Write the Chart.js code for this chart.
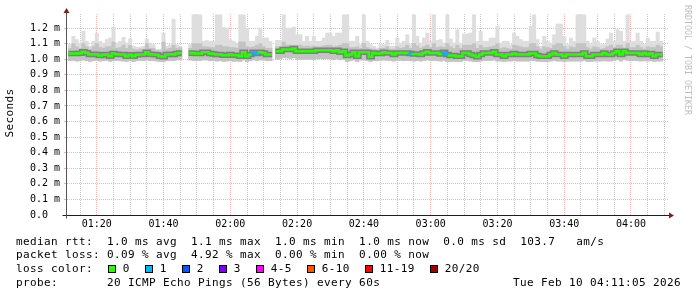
<!DOCTYPE html>
<html>
<head>
<meta charset="utf-8">
<script src="https://cdn.jsdelivr.net/npm/chart.js@4.4.1/dist/chart.umd.min.js"></script>
<style>
html,body{margin:0;padding:0;background:#fff;}
#wrap{position:relative;width:697px;height:297px;overflow:hidden;font-family:"DejaVu Sans Mono",monospace;color:#000;}
#c{position:absolute;left:0;top:0;}
.t{position:absolute;white-space:pre;font-size:11px;letter-spacing:0.38px;line-height:13px;}
#ylab{position:absolute;left:-20px;top:106px;width:60px;height:14px;line-height:14px;text-align:center;transform:rotate(-90deg);transform-origin:30px 7px;font-size:11px;letter-spacing:0.38px;white-space:pre;color:#000;}
#wm{position:absolute;left:683px;top:5px;writing-mode:vertical-rl;font-size:8.3px;color:#bdbdbd;white-space:pre;line-height:9px;}
.box{position:absolute;width:8px;height:8px;border:1px solid #000;box-sizing:border-box;}
</style>
</head>
<body>
<div id="wrap">
<canvas id="c" width="697" height="297"></canvas>
<div id="ylab">Seconds</div>
<div id="wm">RRDTOOL / TOBI OETIKER</div>
</div>
<script>
// ---- data (values in milliseconds; one column per minute, first column = 01:12) ----
const startMinute = 72; // 01:12
const median = [
1.036,1.036,1.036,1.038,1.047,1.042,1.030,1.032,1.030,1.023,
1.028,1.030,1.019,1.036,1.032,1.030,1.030,1.019,1.028,1.019,
1.028,1.030,1.030,1.045,1.032,1.030,1.028,1.019,1.015,1.030,
1.032,1.030,1.036,1.040,null,null,1.040,1.038,1.036,1.036,
1.045,1.045,1.036,1.034,1.030,1.030,1.026,1.026,1.030,1.026,
1.026,1.019,1.045,1.019,1.030,1.045,1.036,1.045,1.040,1.030,
1.030,null,1.051,1.051,1.062,1.062,1.062,1.068,1.051,1.051,
1.051,1.051,1.051,1.051,1.057,1.057,1.057,1.057,1.057,1.051,
1.057,1.045,1.051,1.023,1.030,1.045,1.019,1.045,1.045,1.045,
1.015,1.040,1.036,1.036,1.045,1.040,1.040,1.030,1.040,1.040,
1.040,1.040,1.036,1.034,1.034,1.030,1.040,1.047,1.040,1.040,
1.040,1.034,1.045,1.030,1.023,1.023,1.019,1.019,1.040,1.040,
1.030,1.023,1.015,1.030,1.040,1.040,1.040,1.047,1.030,1.030,
1.019,1.030,1.030,1.036,1.030,1.030,1.030,1.030,1.036,1.036,
1.023,1.019,1.019,1.019,1.030,1.040,1.030,1.030,1.019,1.030,
1.030,1.030,1.030,1.030,1.040,1.019,1.019,1.030,1.030,1.030,
1.040,1.030,1.030,1.040,1.051,1.030,1.051,1.040,1.040,1.040,
1.040,1.030,1.040,1.030,1.036,1.019,1.030,1.030,null,null
];
const smokeMax = [
1.094,1.147,1.126,1.104,1.179,1.115,1.083,1.115,1.168,1.115,
1.104,1.126,1.136,1.204,1.104,1.115,1.140,1.104,1.130,1.083,
1.077,1.077,1.083,1.130,1.104,1.094,1.062,1.062,1.168,1.083,
1.094,1.257,1.094,1.083,null,null,1.094,1.285,1.285,1.285,
1.115,1.120,1.115,1.115,1.285,1.285,1.204,1.200,1.126,1.115,
1.104,1.285,1.285,1.200,1.115,1.115,1.147,1.200,1.136,1.136,
1.115,null,1.121,1.121,1.285,1.200,1.200,1.206,1.157,1.157,
1.115,1.147,1.115,1.147,1.115,1.115,1.136,1.168,1.168,1.147,
1.168,1.168,1.285,1.285,1.115,1.115,1.147,1.094,1.285,1.115,
1.094,1.083,1.072,1.094,1.094,1.121,1.083,1.083,1.136,1.104,
1.115,1.157,1.094,1.285,1.147,1.104,1.136,1.168,1.115,1.285,
1.121,1.126,1.104,1.285,1.130,1.104,1.189,1.104,1.162,1.162,
1.168,1.285,1.115,1.179,1.115,1.115,1.136,1.136,1.210,1.104,
1.115,1.115,1.094,1.168,1.147,1.126,1.115,1.115,1.210,1.285,
1.126,1.083,1.147,1.115,1.104,1.157,1.226,1.226,1.147,1.094,
1.136,1.115,1.285,1.285,1.285,1.115,1.094,1.136,1.115,1.094,
1.094,1.130,1.168,1.115,1.189,1.179,1.115,1.285,1.115,1.115,
1.168,1.115,1.094,1.136,1.115,1.115,1.174,1.115,null,null
];
const smokeHigh = [
1.070,1.100,1.080,1.070,1.100,1.080,1.065,1.080,1.100,1.075,
1.070,1.080,1.080,1.110,1.070,1.075,1.090,1.070,1.090,1.065,
1.060,1.065,1.065,1.100,1.070,1.070,1.055,1.055,1.110,1.065,
1.070,1.090,1.070,1.075,null,null,1.070,1.100,1.100,1.100,
1.080,1.080,1.075,1.075,1.090,1.090,1.080,1.080,1.075,1.075,
1.070,1.110,1.110,1.080,1.075,1.080,1.090,1.100,1.080,1.070,
1.070,null,1.080,1.080,1.110,1.090,1.090,1.090,1.090,1.090,
1.080,1.085,1.080,1.085,1.080,1.080,1.085,1.090,1.090,1.080,
1.085,1.090,1.100,1.100,1.075,1.075,1.080,1.070,1.100,1.075,
1.065,1.065,1.060,1.070,1.070,1.080,1.065,1.065,1.080,1.070,
1.075,1.090,1.070,1.100,1.085,1.070,1.080,1.090,1.075,1.100,
1.075,1.080,1.075,1.100,1.080,1.070,1.090,1.070,1.090,1.090,
1.090,1.100,1.070,1.090,1.075,1.075,1.080,1.085,1.100,1.070,
1.075,1.070,1.065,1.090,1.085,1.080,1.075,1.075,1.100,1.100,
1.080,1.065,1.080,1.075,1.070,1.090,1.100,1.100,1.080,1.065,
1.080,1.075,1.100,1.100,1.100,1.075,1.065,1.080,1.075,1.065,
1.070,1.080,1.090,1.075,1.090,1.090,1.075,1.100,1.075,1.075,
1.090,1.075,1.065,1.080,1.075,1.075,1.090,1.080,null,null
];
const smokeLow = [
0.990,0.992,0.988,0.990,0.995,0.990,0.986,0.990,0.992,0.988,
0.990,0.992,0.986,0.990,0.992,0.990,0.988,0.986,0.990,0.985,
0.990,0.992,0.990,0.995,0.990,0.990,0.988,0.986,0.985,0.990,
0.992,0.990,0.995,0.996,null,null,0.995,0.992,0.990,0.992,
0.995,0.995,0.990,0.990,0.988,0.990,0.986,0.988,0.990,0.986,
0.988,0.985,0.995,0.985,0.990,0.995,0.992,0.995,0.995,0.990,
0.990,null,1.000,1.002,1.010,1.008,1.005,1.010,1.000,0.998,
1.000,0.998,1.000,0.998,1.002,1.004,1.002,1.004,1.000,0.998,
1.002,0.996,0.998,0.985,0.990,0.995,0.985,0.995,0.995,0.992,
0.985,0.992,0.990,0.992,0.995,0.992,0.992,0.988,0.992,0.992,
0.990,0.992,0.990,0.988,0.990,0.988,0.992,0.995,0.990,0.992,
0.990,0.988,0.992,0.985,0.985,0.986,0.985,0.985,0.992,0.992,
0.988,0.985,0.984,0.988,0.992,0.992,0.992,0.995,0.988,0.988,
0.985,0.988,0.988,0.990,0.988,0.988,0.988,0.988,0.990,0.990,
0.986,0.985,0.985,0.985,0.988,0.992,0.988,0.988,0.985,0.988,
0.988,0.988,0.988,0.988,0.992,0.985,0.985,0.988,0.988,0.988,
0.990,0.988,0.988,0.992,0.996,0.988,0.996,0.992,0.990,0.992,
0.990,0.988,0.990,0.988,0.990,0.985,0.988,0.988,null,null
];
// lost pings (of 20) per column
const lostPings = [
0,0,0,0,0,0,0,0,0,0, 0,0,0,0,0,0,0,0,0,0, 0,0,0,0,0,0,0,0,0,0,
0,0,0,0,0,0,0,0,0,0, 0,0,0,0,0,0,0,0,0,0, 0,0,0,0,0,1,1,0,0,0,
0,0,0,0,0,0,0,0,0,0, 0,0,0,0,0,0,0,0,0,0, 0,0,0,0,0,0,0,0,0,0,
0,0,0,0,0,0,0,0,0,0, 0,0,1,0,0,0,0,0,0,0, 0,0,1,1,0,0,0,0,0,0,
0,0,0,0,0,0,0,0,0,0, 0,0,0,0,0,0,0,0,0,0, 0,0,0,0,0,0,0,0,0,0,
0,0,0,0,0,0,0,0,0,0, 0,0,0,0,0,0,0,0,0,0, 0,0,0,0,0,0,0,0,0,0
];
const lossLabels = ['0','1','2','3','4-5','6-10','11-19','20/20'];
const lossColors = ['#26ff00','#00b8ff','#0059ff','#7e00ff','#ff00ff','#ff5500','#ff0000','#a10000'];
const lossUpper  = [0,1,2,3,5,10,19,20];
const yTicks = [0,0.1,0.2,0.3,0.4,0.5,0.6,0.7,0.8,0.9,1.0,1.1,1.2];
const timeLabelMinutes = [80,100,120,140,160,180,200,220,240];
const timeLabels = ['01:20','01:40','02:00','02:20','02:40','03:00','03:20','03:40','04:00'];
const statLines = [
  'median rtt:  1.0 ms avg  1.1 ms max  1.0 ms min  1.0 ms now  0.0 ms sd  103.7   am/s',
  'packet loss: 0.09 % avg  4.92 % max  0.00 % min  0.00 % now',
  'loss color:',
  'probe:       20 ICMP Echo Pings (56 Bytes) every 60s'
];
const stampText = 'Tue Feb 10 04:11:05 2026';
const rangeStart = 71 + 5/60, rangeEnd = 251 + 5/60; // 01:11:05 .. 04:11:05

// ---- text overlay ----
const wrap = document.getElementById('wrap');
const lineTops = [234.7, 248.1, 262.4, 276.4];
statLines.forEach((s, i) => {
  const d = document.createElement('div'); d.className = 't';
  d.style.left = '16px'; d.style.top = lineTops[i] + 'px'; d.textContent = s; wrap.appendChild(d);
});
const st = document.createElement('div'); st.className = 't';
st.style.left = '513px'; st.style.top = lineTops[3] + 'px'; st.textContent = stampText; wrap.appendChild(st);
let lx = 108.3;
lossLabels.forEach((lab, i) => {
  const b = document.createElement('div'); b.className = 'box';
  b.style.left = lx + 'px'; b.style.top = '265px'; b.style.background = lossColors[i]; wrap.appendChild(b);
  const t = document.createElement('div'); t.className = 't';
  t.style.left = (lx + 14.5) + 'px'; t.style.top = lineTops[2] + 'px'; t.textContent = lab; wrap.appendChild(t);
  lx += 30 + 7 * lab.length;
});

// ---- chart data ----
const cols = median.map((_, i) => startMinute + i);
function bucket(n){ for (let k = 0; k < lossUpper.length; k++) if (n <= lossUpper[k]) return k; return lossUpper.length - 1; }
const lightBars = [], midBars = [];
cols.forEach((x, i) => {
  if (smokeMax[i] == null) return;
  lightBars.push({x, y: [smokeLow[i], smokeMax[i]]});
  midBars.push({x, y: [smokeLow[i], smokeHigh[i]]});
});
const medPts = [], medCol = [];
cols.forEach((x, i) => {
  if (median[i] == null) { medPts.push({x, y: null}); medCol.push(i); return; }
  medPts.push({x: x - 0.5, y: median[i]}); medCol.push(i);
  medPts.push({x: x + 0.5, y: median[i]}); medCol.push(i);
});

const MINOR = 'rgba(150,150,150,0.5)', MAJOR = 'rgba(222,90,90,0.45)';
const fnt = {family: '"DejaVu Sans Mono", monospace', size: 10};

const rrdAxes = {
  id: 'rrdAxes',
  afterDraw(chart) {
    const {ctx, chartArea: a} = chart;
    const ax = Math.round(a.left) - 0.5, ay = Math.round(a.bottom) + 0.5;
    ctx.save();
    ctx.lineWidth = 1;
    ctx.strokeStyle = '#1f1f1f';
    ctx.beginPath(); ctx.moveTo(ax - 4, ay); ctx.lineTo(a.right + 1, ay); ctx.stroke();
    ctx.strokeStyle = '#555';
    ctx.beginPath(); ctx.moveTo(ax, ay + 3); ctx.lineTo(ax, a.top - 1); ctx.stroke();
    ctx.fillStyle = '#801f1f';
    ctx.beginPath(); ctx.moveTo(ax - 3, a.top - 1); ctx.lineTo(ax + 3, a.top - 1); ctx.lineTo(ax, a.top - 6); ctx.closePath(); ctx.fill();
    ctx.beginPath(); ctx.moveTo(a.right + 1, ay - 3); ctx.lineTo(a.right + 1, ay + 3); ctx.lineTo(a.right + 6, ay); ctx.closePath(); ctx.fill();
    ctx.restore();
  }
};

new Chart(document.getElementById('c'), {
  type: 'bar',
  data: {
    datasets: [
      {type: 'line', data: medPts, order: 0, borderWidth: 2.5, pointRadius: 0, spanGaps: false,
       borderColor: lossColors[0], borderCapStyle: 'butt', borderJoinStyle: 'miter',
       segment: {borderColor: c => lossColors[bucket(lostPings[medCol[c.p1DataIndex]] || 0)]}},
      {type: 'line', data: medPts, order: 1, borderWidth: 5.5, pointRadius: 0, spanGaps: false,
       borderColor: 'rgba(60,60,60,0.5)', borderCapStyle: 'butt', borderJoinStyle: 'miter'},
      {data: midBars, order: 2, backgroundColor: '#c3c3c3', borderWidth: 0, grouped: false,
       barPercentage: 1, categoryPercentage: 1},
      {data: lightBars, order: 3, backgroundColor: '#dedede', borderWidth: 0, grouped: false,
       barPercentage: 1, categoryPercentage: 1}
    ]
  },
  options: {
    responsive: false, animation: false, devicePixelRatio: 1,
    events: [],
    layout: {padding: {left: 0, right: 29, top: 14, bottom: 62}},
    plugins: {legend: {display: false}, tooltip: {enabled: false}},
    scales: {
      x: {
        type: 'linear', min: rangeStart, max: rangeEnd, offset: false, z: 1,
        afterFit: s => { s.height = 20; },
        afterBuildTicks: s => { const t = []; for (let m = 75; m <= 250; m += 5) t.push({value: m}); s.ticks = t; },
        grid: {offset: false, drawTicks: false, color: c => (c.tick && c.tick.value % 20 === 0) ? MAJOR : MINOR, lineWidth: 1},
        border: {display: false, dash: [1, 1]},
        ticks: {autoSkip: false, maxRotation: 0, padding: 3, color: '#000', font: fnt,
          callback: v => { const k = timeLabelMinutes.indexOf(v); return k >= 0 ? timeLabels[k] : ''; }}
      },
      y: {
        type: 'linear', min: 0, max: 1.29, z: 1,
        afterFit: s => { s.width = 67; },
        afterBuildTicks: s => { s.ticks = yTicks.map(v => ({value: v})); },
        grid: {color: MAJOR, lineWidth: 1, drawTicks: true, tickLength: 3, tickColor: MAJOR},
        border: {display: false, dash: [1, 1]},
        ticks: {padding: 4, color: '#000', font: fnt,
          callback: v => v === 0 ? '0.0  ' : v.toFixed(1) + ' m'}
      }
    }
  },
  plugins: [rrdAxes]
});
</script>
</body>
</html>
